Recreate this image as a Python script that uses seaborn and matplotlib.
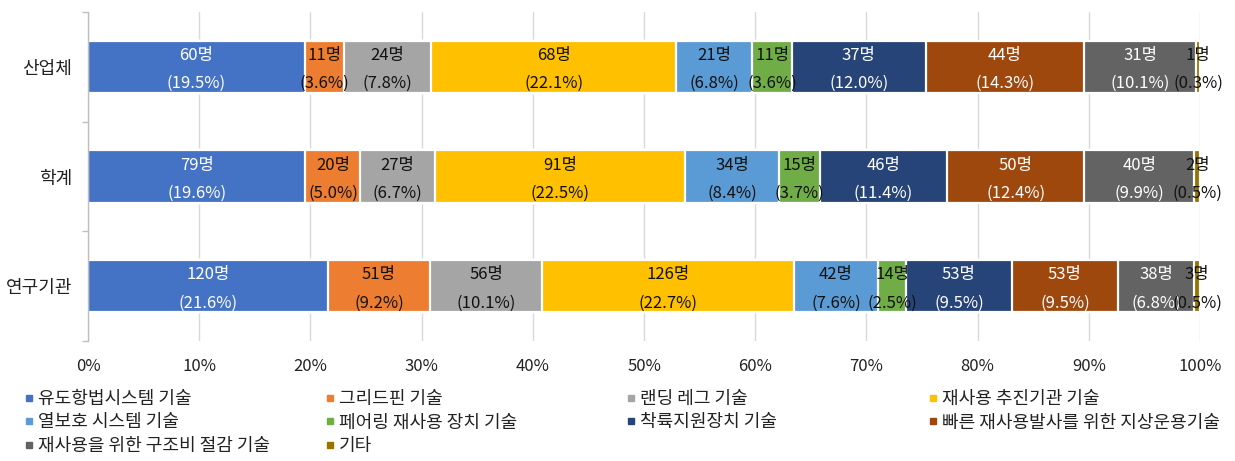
import numpy as np
import pandas as pd
import seaborn as sns
import matplotlib
matplotlib.use("Agg")
import matplotlib.pyplot as plt
from matplotlib.lines import Line2D

sns.set_theme(style="white")
plt.rcParams['font.family'] = ['Noto Sans CJK KR', 'DejaVu Sans']

categories = ["산업체", "학계", "연구기관"]
series_names = ["유도항법시스템 기술", "그리드핀 기술", "랜딩 레그 기술", "재사용 추진기관 기술",
                "열보호 시스템 기술", "페어링 재사용 장치 기술", "착륙지원장치 기술",
                "빠른 재사용발사를 위한 지상운용기술", "재사용을 위한 구조비 절감 기술", "기타"]
industry = [60, 11, 24, 68, 21, 11, 37, 44, 31, 1]
academia = [79, 20, 27, 91, 34, 15, 46, 50, 40, 2]
institute = [120, 51, 56, 126, 42, 14, 53, 53, 38, 3]
colors = ["#4472C4", "#ED7D31", "#A5A5A5", "#FFC000", "#5B9BD5",
          "#70AD47", "#264478", "#9E480E", "#636363", "#997300"]
white_text = {0, 6, 7, 8}
x_ticks = [0, 10, 20, 30, 40, 50, 60, 70, 80, 90, 100]

counts = np.array([industry, academia, institute], dtype=float)
totals = counts.sum(axis=1, keepdims=True)
pct = counts / totals * 100
cum = np.cumsum(pct, axis=1)

fig = plt.figure(figsize=(12.35, 4.61), dpi=100)
ax = fig.add_axes([88/1235, 1-341/461, (1200-88)/1235, 329/461])

for j in range(len(series_names) - 1, -1, -1):
    df = pd.DataFrame({"cat": categories, "val": cum[:, j]})
    sns.barplot(data=df, x="val", y="cat", orient="h", color=colors[j],
                width=0.475, edgecolor="white", linewidth=1.6, saturation=1,
                ax=ax, zorder=3)

for i in range(len(categories)):
    for j in range(len(series_names)):
        center = cum[i, j] - pct[i, j] / 2
        tc = "white" if j in white_text else "#111111"
        ax.annotate(f"{int(counts[i, j])}명", (center, i), xytext=(0, 8.2),
                    textcoords="offset points", ha="center", va="center",
                    fontsize=12, color=tc, zorder=5)
        ax.annotate(f"({pct[i, j]:.1f}%)", (center, i), xytext=(0, -12.2),
                    textcoords="offset points", ha="center", va="center",
                    fontsize=12, color=tc, zorder=5)

ax.set_xlim(0, 100)
ax.set_ylim(2.5, -0.5)
ax.set_xticks(x_ticks)
ax.set_xticklabels([f"{t}%" for t in x_ticks], fontsize=12, color="#222222")
ax.tick_params(axis="x", length=0, pad=12)
ax.set_yticks(range(len(categories)))
ax.set_yticklabels(categories)
ax.tick_params(axis="y", length=0, pad=11.5, labelsize=13, labelcolor="#222222")
ax.set_yticks([-0.5, 0.5, 1.5, 2.5], minor=True)
ax.tick_params(axis="y", which="minor", length=4, color="#BFBFBF", width=1, left=True)
ax.set_xlabel("")
ax.set_ylabel("")
ax.grid(axis="x", color="#D9D9D9", linewidth=1, zorder=0)
ax.set_axisbelow(True)
for s in ["top", "right", "bottom"]:
    ax.spines[s].set_visible(False)
ax.spines["left"].set_color("#BFBFBF")
ax.spines["left"].set_linewidth(1)
ax.spines["left"].set_zorder(4)

col_groups = [[0, 4, 8], [1, 5, 9], [2, 6], [3, 7]]
col_x = [24, 325, 626, 928]
for g, xpx in zip(col_groups, col_x):
    handles = [Line2D([], [], marker="s", linestyle="none", markersize=4.5,
                      markerfacecolor=colors[k], markeredgecolor=colors[k]) for k in g]
    labels = [series_names[k] for k in g]
    fig.legend(handles, labels, loc="upper left", bbox_to_anchor=(xpx/1235, 1-390/461),
               frameon=False, fontsize=13, handlelength=0.5, handletextpad=0.25,
               labelspacing=0.3, borderpad=0, borderaxespad=0, labelcolor="#222222")

fig.savefig("out.png", dpi=100)
